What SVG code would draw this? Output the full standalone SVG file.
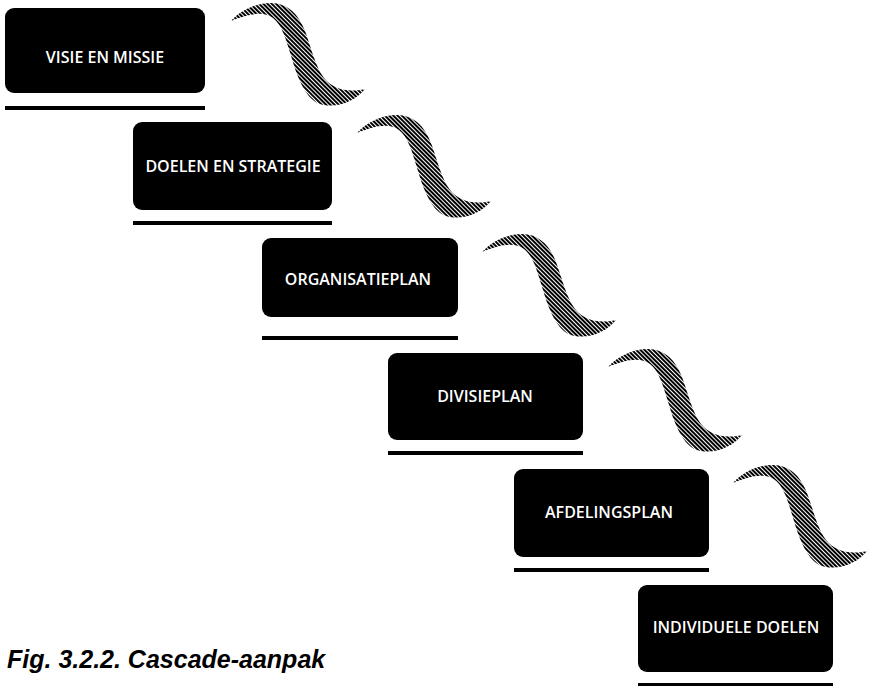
<svg xmlns="http://www.w3.org/2000/svg" width="874" height="686" viewBox="0 0 874 686">
  <defs>
    <!-- dense diagonal hatching used for the S-shaped links -->
    <pattern id="hatch" patternUnits="userSpaceOnUse" width="3" height="3" patternTransform="rotate(45)">
      <rect x="0" y="0" width="3" height="2" fill="#000"/>
    </pattern>
    <!-- one S-curve, tip at the local origin -->
    <path id="wave" d="M0,0 C10,-11 25,-18 40,-18 C57,-18 68,-6 74,10 C80,26 84,45 93,57 C102,68 116,72 134,68 C124,81 104,88 89,83 C75,78 67,58 61,38 C55,18 51,4 42,-3 C31,-11 15,-6 0,0 Z"/>
  </defs>
  <style>
    .box { fill: #000; }
    .rule { fill: #000; }
    .label { fill: #fff; font-family: "Open Sans", "Noto Sans", sans-serif; font-weight: 600; font-size: 16px; text-anchor: middle; }
    .link { fill: url(#hatch); }
    .caption { fill: #000; font-family: "Liberation Sans", Arial, sans-serif; font-weight: bold; font-style: italic; font-size: 25px; }
  </style>
  <rect width="874" height="686" fill="#fff"/>

  <g id="connectors">
    <use href="#wave" class="link" transform="translate(231,21)"/>
    <use href="#wave" class="link" transform="translate(357,133)"/>
    <use href="#wave" class="link" transform="translate(482,252)"/>
    <use href="#wave" class="link" transform="translate(608,367)"/>
    <use href="#wave" class="link" transform="translate(733,483)"/>
  </g>

  <g id="visie-en-missie">
    <rect class="box" x="5" y="8" width="200" height="85" rx="9"/>
    <rect class="rule" x="5" y="106" width="200" height="4"/>
    <text class="label" x="105" y="63">VISIE EN MISSIE</text>
  </g>
  <g id="doelen-en-strategie">
    <rect class="box" x="133" y="122" width="199" height="88" rx="9"/>
    <rect class="rule" x="133" y="221" width="199" height="4"/>
    <text class="label" x="233" y="172">DOELEN EN STRATEGIE</text>
  </g>
  <g id="organisatieplan">
    <rect class="box" x="262" y="238" width="196" height="79" rx="9"/>
    <rect class="rule" x="262" y="336" width="196" height="4"/>
    <text class="label" x="358" y="285">ORGANISATIEPLAN</text>
  </g>
  <g id="divisieplan">
    <rect class="box" x="388" y="353" width="195" height="87" rx="9"/>
    <rect class="rule" x="388" y="451" width="195" height="4"/>
    <text class="label" x="485" y="402">DIVISIEPLAN</text>
  </g>
  <g id="afdelingsplan">
    <rect class="box" x="514" y="469" width="195" height="88" rx="9"/>
    <rect class="rule" x="514" y="568" width="195" height="4"/>
    <text class="label" x="609" y="518">AFDELINGSPLAN</text>
  </g>
  <g id="individuele-doelen">
    <rect class="box" x="638" y="585" width="195" height="87" rx="9"/>
    <rect class="rule" x="638" y="683" width="195" height="4"/>
    <text class="label" x="736" y="633">INDIVIDUELE DOELEN</text>
  </g>

  <text class="caption" x="7" y="668">Fig. 3.2.2. Cascade-aanpak</text>
</svg>
